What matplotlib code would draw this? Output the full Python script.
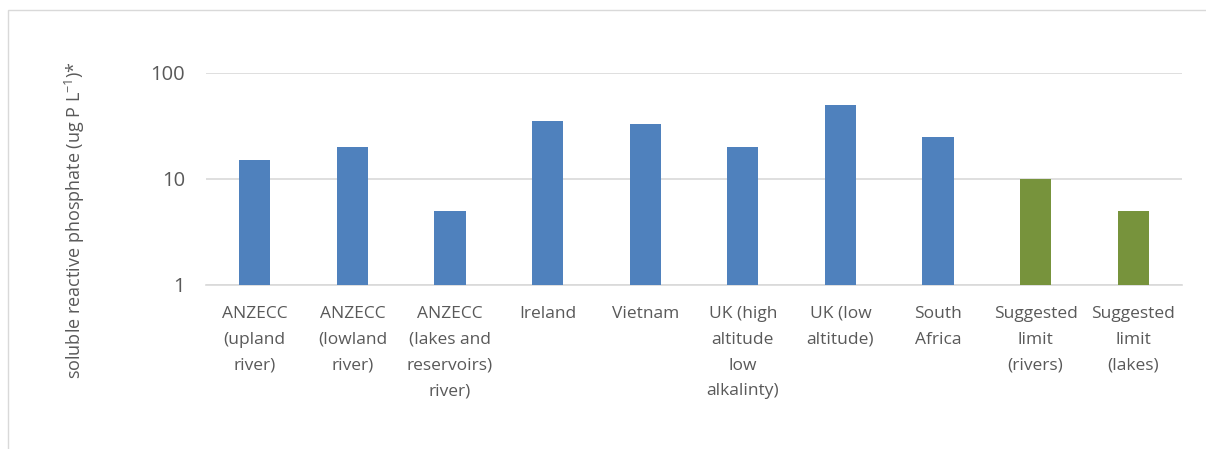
import matplotlib.pyplot as plt
from matplotlib.patches import Rectangle

categories = [
    "ANZECC\n(upland\nriver)",
    "ANZECC\n(lowland\nriver)",
    "ANZECC\n(lakes and\nreservoirs)\nriver)",
    "Ireland",
    "Vietnam",
    "UK (high\naltitude\nlow\nalkalinty)",
    "UK (low\naltitude)",
    "South\nAfrica",
    "Suggested\nlimit\n(rivers)",
    "Suggested\nlimit\n(lakes)",
]
values = [15, 20, 5, 35, 33, 20, 50, 25, 10, 5]
colors = ["#4f81bd"] * 8 + ["#77933c"] * 2

plt.rcParams["font.family"] = ["Open Sans", "DejaVu Sans"]

fig = plt.figure(figsize=(12.06, 4.49), dpi=100)
ax = fig.add_axes([206 / 1206, 1 - 285 / 449, (1182 - 206) / 1206, (285 - 73) / 449])

x = range(len(categories))
ax.bar(x, values, width=0.32, color=colors, zorder=3)
ax.set_yscale("log")
ax.set_ylim(1, 100)
ax.set_xlim(-0.5, len(categories) - 0.5)
ax.set_yticks([1, 10, 100])
ax.set_yticklabels(["1", "10", "100"])
ax.minorticks_off()
ax.set_xticks(list(x))
ax.set_xticklabels(categories, linespacing=1.82, va="top")
ax.tick_params(axis="both", length=0, colors="#595959")
ax.tick_params(axis="x", pad=15, labelsize=12.5)
ax.tick_params(axis="y", pad=15, labelsize=14.5)
ax.yaxis.grid(True, color="#d9d9d9", linewidth=1.2, zorder=0)
for s in ["top", "right", "left"]:
    ax.spines[s].set_visible(False)
ax.spines["bottom"].set_color("#d9d9d9")
ax.spines["bottom"].set_linewidth(1.2)

fig.text(75 / 1206, 1 - 220 / 449, "soluble reactive phosphate (ug P L$^{\\mathregular{-1}}$)*",
         rotation=90, ha="center", va="center", fontsize=13, color="#595959")

# outer chart frame
fig.patches.append(Rectangle((8 / 1206, -0.1), 1.2, 1 - 10 / 449 + 0.1, transform=fig.transFigure,
                             fill=False, edgecolor="#d9d9d9", linewidth=1))

fig.savefig("out.png", dpi=100)
